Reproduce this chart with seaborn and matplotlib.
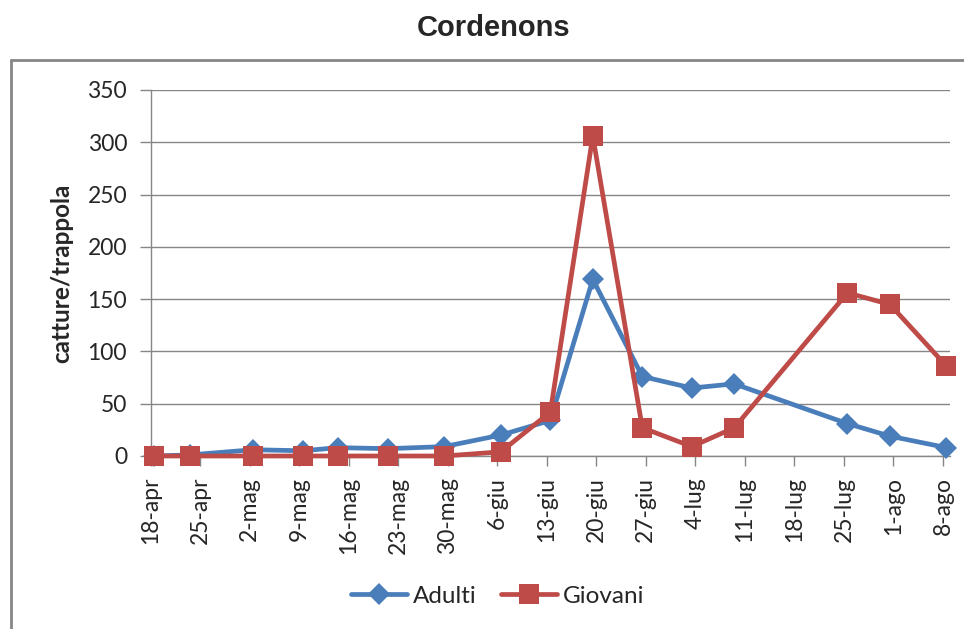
import matplotlib
matplotlib.use("Agg")
import matplotlib.pyplot as plt
import matplotlib.lines as mlines
import seaborn as sns
import pandas as pd

# ---- data ----
sample_dates = ["2011-04-18", "2011-04-23", "2011-05-02", "2011-05-09", "2011-05-14",
                "2011-05-21", "2011-05-29", "2011-06-06", "2011-06-13", "2011-06-19",
                "2011-06-26", "2011-07-03", "2011-07-09", "2011-07-25", "2011-07-31",
                "2011-08-08"]
adulti = [0, 1, 6, 5, 8, 7, 9, 20, 34, 169, 76, 65, 69, 31, 19, 8]
giovani = [0, 0, 0, 0, 0, 0, 0, 4, 42, 306, 27, 9, 27, 156, 145, 86]
tick_labels = ["18-apr", "25-apr", "2-mag", "9-mag", "16-mag", "23-mag", "30-mag",
               "6-giu", "13-giu", "20-giu", "27-giu", "4-lug", "11-lug", "18-lug",
               "25-lug", "1-ago", "8-ago"]
series_names = ["Adulti", "Giovani"]
title = "Cordenons"
ylabel = "catture/trappola"

# ---- build table ----
dates = pd.to_datetime(sample_dates) + pd.Timedelta(hours=12)
df = pd.concat([
    pd.DataFrame({"data": dates, "valore": adulti, "serie": series_names[0]}),
    pd.DataFrame({"data": dates, "valore": giovani, "serie": series_names[1]}),
])

sns.set_theme(style="white")
plt.rcParams["font.family"] = ["Lato", "DejaVu Sans"]

fig = plt.figure(figsize=(9.64, 6.29), dpi=100)
ax = fig.add_axes([150.7 / 964, 1 - 456 / 629, (950 - 150.7) / 964, (456 - 90) / 629])

blue = "#4A7EBB"
red = "#BE4B48"
grid_c = "#868686"
lw = 3.4
ms_d, ms_s = 11.5, 15

sns.lineplot(data=df, x="data", y="valore", hue="serie", style="serie",
             palette={"Adulti": blue, "Giovani": red},
             markers={"Adulti": "D", "Giovani": "s"}, dashes=False,
             linewidth=lw, markeredgewidth=0, ax=ax, legend=False, sort=False)
for ln, ms in zip(ax.lines, [ms_d, ms_s]):
    ln.set_markersize(ms)
    ln.set_clip_on(False)
    ln.set_zorder(5)

# axes limits and ticks
start = pd.Timestamp("2011-04-18")
tick_pos = pd.date_range(start, periods=len(tick_labels), freq="7D")
ax.set_xlim(start, pd.Timestamp("2011-08-09"))
ax.set_ylim(0, 350)
ax.set_yticks(range(0, 351, 50))
ax.set_xticks(tick_pos)
ax.set_xticklabels(tick_labels, rotation=90, fontsize=16.5)
ax.tick_params(axis="y", labelsize=16.5, length=8, width=1, color=grid_c, pad=9, left=True)
ax.tick_params(axis="x", length=7, width=1, color=grid_c, pad=8, bottom=True)
ax.yaxis.grid(True, color=grid_c, linewidth=1)
ax.xaxis.grid(False)
for s in ["top", "right"]:
    ax.spines[s].set_visible(False)
for s in ["left", "bottom"]:
    ax.spines[s].set_color(grid_c)
    ax.spines[s].set_linewidth(1)
ax.set_xlabel("")
ax.set_ylabel(ylabel, fontsize=17.5, fontweight="bold", labelpad=10)

fig.suptitle(title, x=494 / 964, y=1 - 28 / 629, va="center",
             fontsize=21, fontweight="bold", family="Liberation Sans")

# legend
handles = [
    mlines.Line2D([], [], color=blue, marker="D", markersize=ms_d, markeredgewidth=0, linewidth=lw),
    mlines.Line2D([], [], color=red, marker="s", markersize=ms_s, markeredgewidth=0, linewidth=lw),
]
fig.legend(handles, series_names, loc="center", bbox_to_anchor=(498 / 964, 1 - 596 / 629),
           ncol=2, frameon=False, fontsize=17.5, handlelength=2.3, numpoints=1,
           columnspacing=1.0, handletextpad=0.25)

# outer chart border (top and left visible)
fig.add_artist(mlines.Line2D([11 / 964, 11 / 964], [0, 1 - 60 / 629], color=grid_c,
                             linewidth=2, transform=fig.transFigure))
fig.add_artist(mlines.Line2D([11 / 964, 1], [1 - 60 / 629, 1 - 60 / 629], color=grid_c,
                             linewidth=2, transform=fig.transFigure))

fig.savefig("out.png", dpi=100)
